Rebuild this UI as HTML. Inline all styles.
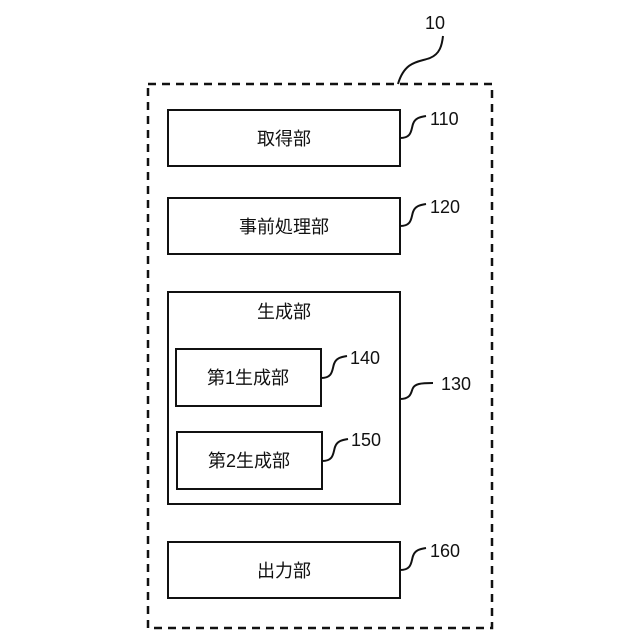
<!DOCTYPE html>
<html><head><meta charset="utf-8"><style>
html,body{margin:0;padding:0;background:#fff}
svg{display:block}
text{font-family:"Liberation Sans","Noto Sans CJK JP",sans-serif;fill:#111}
</style></head><body>
<svg width="640" height="640" viewBox="0 0 640 640" xmlns="http://www.w3.org/2000/svg">
<rect x="148" y="84" width="344" height="544" fill="none" stroke="#111" stroke-width="2.5" stroke-dasharray="8,6"/>
<g fill="none" stroke="#111" stroke-width="2">
<rect x="168" y="110" width="232" height="56"/>
<rect x="168" y="198" width="232" height="56"/>
<rect x="168" y="292" width="232" height="212"/>
<rect x="176" y="349" width="145" height="57"/>
<rect x="177" y="432" width="145" height="57"/>
<rect x="168" y="542" width="232" height="56"/>
<path d="M398 84 C405 60,420 62,430 58 C440 54,442 45,443 36"/>
<path d="M400 138 C412 138,411 130,413 124 C415 118,420 117,426 116"/>
<path d="M400 226 C412 226,411 218,413 212 C415 206,420 205,426 204"/>
<path d="M321 378 C333 378,332 370,334 364 C336 358,341 357,347 356"/>
<path d="M322 461 C334 461,333 453,335 447 C337 441,342 440,348 439"/>
<path d="M400 399 C412 399,411 391,413 388 C415 384,420 383,433 383"/>
<path d="M400 570 C412 570,411 562,413 556 C415 550,420 549,426 548"/>
</g>
<g font-size="18">
<text x="284" y="145" text-anchor="middle">取得部</text>
<text x="284" y="233" text-anchor="middle">事前処理部</text>
<text x="284" y="318" text-anchor="middle">生成部</text>
<text x="248" y="384" text-anchor="middle">第1生成部</text>
<text x="249" y="467" text-anchor="middle">第2生成部</text>
<text x="284" y="577" text-anchor="middle">出力部</text>
</g>
<g font-size="18">
<text x="425" y="29">10</text>
<text x="430" y="125">110</text>
<text x="430" y="213">120</text>
<text x="441" y="390">130</text>
<text x="350" y="364">140</text>
<text x="351" y="446">150</text>
<text x="430" y="557">160</text>
</g>
</svg>
</body></html>
